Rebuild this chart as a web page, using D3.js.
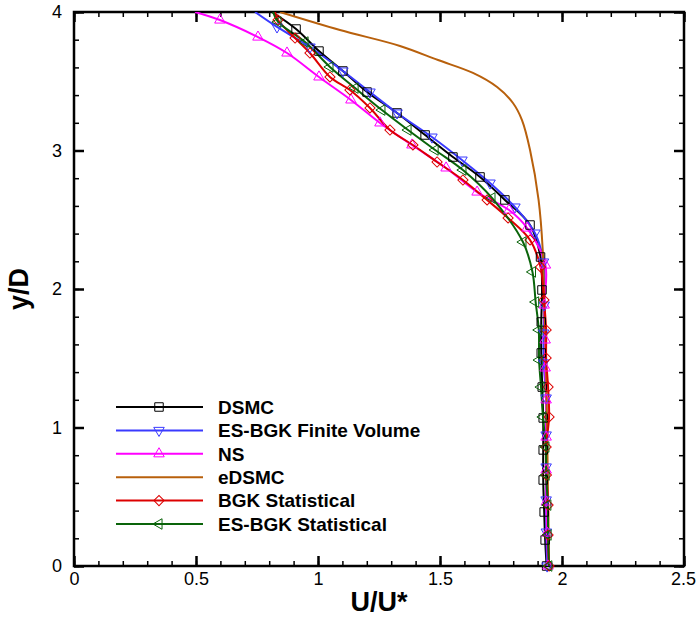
<!DOCTYPE html>
<html>
<head>
<meta charset="utf-8">
<script src="https://cdn.jsdelivr.net/npm/d3@7"></script>
<style>
  body { margin: 0; background: #fff; }
  text { font-family: "Liberation Sans", Arial, sans-serif; }
</style>
</head>
<body>
<div class="chart"></div>
<script>
// values, [U/U*, y/D]
var dsmc = [[0.811,4.0],[0.910,3.877],[1.004,3.718],[1.102,3.574],[1.201,3.422],[1.324,3.271],
  [1.439,3.112],[1.553,2.953],[1.664,2.809],[1.766,2.643],[1.869,2.462],[1.912,2.231],[1.918,1.993],
  [1.915,1.762],[1.915,1.538],[1.919,1.292],[1.923,1.069],[1.923,0.838],[1.923,0.621],[1.927,0.390],
  [1.931,0.188],[1.937,0.0]];
var esbgkFV = [[0.742,4.0],[0.832,3.892],[0.967,3.747],[1.102,3.574],[1.213,3.422],[1.324,3.271],
  [1.467,3.097],[1.590,2.931],[1.705,2.765],[1.807,2.592],[1.889,2.404],[1.924,2.195],[1.927,1.884],
  [1.925,1.682],[1.925,1.466],[1.935,1.213],[1.935,0.946],[1.935,0.715],[1.935,0.477],[1.936,0.245],
  [1.939,0.0]];
var ns = [[0.496,4.0],[0.598,3.942],[0.754,3.819],[0.873,3.704],[1.004,3.531],[1.135,3.365],
  [1.254,3.199],[1.385,3.040],[1.525,2.874],[1.652,2.700],[1.783,2.570],[1.857,2.440],[1.932,2.173],
  [1.927,1.884],[1.931,1.632],[1.931,1.430],[1.935,1.199],[1.935,0.931],[1.935,0.693],[1.936,0.462],
  [1.939,0.238],[1.943,0.0]];
var edsmc = [[0.844,4.0],[1.090,3.870],[1.336,3.755],[1.492,3.653],[1.635,3.560],[1.734,3.458],
  [1.799,3.343],[1.836,3.220],[1.869,3.004],[1.904,2.643],[1.921,2.282],[1.926,1.993],[1.934,1.487],
  [1.939,0.982],[1.943,0.477],[1.947,0.0]];
var bgkStat = [[0.824,4.0],[0.836,3.942],[0.906,3.812],[0.967,3.704],[1.049,3.531],[1.131,3.437],
  [1.213,3.307],[1.295,3.148],[1.389,3.040],[1.488,2.917],[1.594,2.787],[1.693,2.643],[1.779,2.513],
  [1.869,2.354],[1.912,2.159],[1.926,1.921],[1.935,1.704],[1.935,1.502],[1.943,1.292],[1.947,1.076],
  [1.935,0.859],[1.936,0.657],[1.943,0.440],[1.943,0.224],[1.947,0.0]];
var esbgkStat = [[0.816,4.0],[0.836,3.928],[0.947,3.783],[1.049,3.603],[1.152,3.451],[1.262,3.292],
  [1.369,3.148],[1.480,3.004],[1.594,2.859],[1.713,2.657],[1.840,2.339],[1.879,2.123],[1.892,1.906],
  [1.905,1.704],[1.906,1.487],[1.914,1.292],[1.922,1.076],[1.934,0.859],[1.935,0.657],[1.942,0.440],
  [1.943,0.224],[1.946,0.0]];

var seriesNames = ["DSMC","ES-BGK Finite Volume","NS","eDSMC","BGK Statistical","ES-BGK Statistical"];
var seriesData = [dsmc, esbgkFV, ns, edsmc, bgkStat, esbgkStat];
var seriesColors = ["#000000","#3a3aff","#ff00ff","#b8600c","#dd0000","#0a640a"];
var seriesMarkers = ["square","down","up","none","diamond","left"];

var xTicks = [0,0.5,1,1.5,2,2.5];
var xTickLabels = ["0","0.5","1","1.5","2","2.5"];
var yTicks = [0,1,2,3,4];
var yTickLabels = ["0","1","2","3","4"];

var margin = {top: 12, right: 12, bottom: 53, left: 74},
    width = 696 - margin.left - margin.right,
    height = 619 - margin.top - margin.bottom;

var x = d3.scaleLinear().domain([0,2.5]).range([0,width]);
var y = d3.scaleLinear().domain([0,4]).range([height,0]);

var svg = d3.select(".chart").append("svg")
    .attr("width", 696)
    .attr("height", 619);

var g = svg.append("g")
    .attr("transform", "translate(" + margin.left + "," + margin.top + ")");

g.append("clipPath").attr("id","plotClip")
  .append("rect").attr("width", width).attr("height", height);

// ticks on all four sides, pointing inward
var xMinor = d3.range(0, 2.5001, 0.1), yMinor = d3.range(0, 4.0001, 0.2);
function tickAxes(axisFn, scale, vals, size, labels, transform) {
  var a = axisFn(scale).tickValues(vals).tickSizeInner(size).tickSizeOuter(0).tickPadding(8);
  if (labels) a.tickFormat(function(d,i){ return labels[i]; }); else a.tickFormat("");
  var sel = g.append("g").attr("transform", transform || null).call(a);
  sel.select(".domain").remove();
  sel.selectAll("line").attr("stroke","#000").attr("stroke-width",1.5);
  return sel;
}
tickAxes(d3.axisBottom, x, xMinor, -5, null, "translate(0," + height + ")");
tickAxes(d3.axisTop, x, xMinor, -5, null);
tickAxes(d3.axisLeft, y, yMinor, -5, null);
tickAxes(d3.axisRight, y, yMinor, -5, null, "translate(" + width + ",0)");
var xAx = tickAxes(d3.axisBottom, x, xTicks, -10, xTickLabels, "translate(0," + height + ")");
tickAxes(d3.axisTop, x, xTicks, -10, null).selectAll("line").attr("stroke-width",2.5);
var yAx = tickAxes(d3.axisLeft, y, yTicks, -10, yTickLabels);
tickAxes(d3.axisRight, y, yTicks, -10, null, "translate(" + width + ",0)").selectAll("line").attr("stroke-width",2.5);
xAx.selectAll("line").attr("stroke-width",2.5);
yAx.selectAll("line").attr("stroke-width",2.5);
xAx.selectAll("text").style("font-size","18px").attr("fill","#000").attr("dy","0.6em")
  .attr("x", function(d,i){ return i == xTicks.length - 1 ? -1 : 0; });
yAx.selectAll("text").style("font-size","18px").attr("fill","#000").attr("x",-12);

// frame
g.append("rect")
  .attr("width", width).attr("height", height)
  .attr("fill","none").attr("stroke","#000").attr("stroke-width",2.5);

// axis titles
g.append("text")
  .attr("x", width/2).attr("y", height + 45)
  .attr("text-anchor","middle")
  .style("font-size","27px").style("font-weight","bold")
  .text("U/U*");
g.append("text")
  .attr("transform","rotate(-90)")
  .attr("x", -(y(2))).attr("y", -46)
  .attr("text-anchor","middle")
  .style("font-size","27px").style("font-weight","bold")
  .text("y/D");

var line = d3.line()
  .x(function(d){ return x(d[0]); })
  .y(function(d){ return y(d[1]); })
  .curve(d3.curveCatmullRom.alpha(0.5));

function markerPath(type) {
  if (type == "square") return d3.symbol(d3.symbolSquare, 72)();
  if (type == "diamond") return d3.symbol(d3.symbolSquare, 52)();
  return d3.symbol(d3.symbolTriangle, 48)();
}
function markerRot(type) {
  if (type == "down") return 180;
  if (type == "left") return -90;
  if (type == "diamond") return 45;
  return 0;
}

var plot = g.append("g").attr("clip-path","url(#plotClip)");

seriesData.forEach(function(data, i) {
  plot.append("path")
    .datum(data)
    .attr("fill","none")
    .attr("stroke", seriesColors[i])
    .attr("stroke-width", 2)
    .attr("stroke-linejoin","round")
    .attr("d", line);
});

// symbols (none on the top edge end points)
seriesData.forEach(function(data, i) {
  if (seriesMarkers[i] == "none") return;
  g.append("g").selectAll("path")
    .data(data.filter(function(d){ return d[1] < 4; }))
    .enter()
    .append("path")
    .attr("d", markerPath(seriesMarkers[i]))
    .attr("transform", function(d){ return "translate(" + x(d[0]) + "," + y(d[1]) + ") rotate(" + markerRot(seriesMarkers[i]) + ")"; })
    .attr("fill","none")
    .attr("stroke", seriesColors[i])
    .attr("stroke-width", 1);
});

// legend
var legend = g.append("g").attr("transform","translate(" + (116 - margin.left) + "," + (407 - margin.top) + ")");
seriesNames.forEach(function(name, i) {
  var row = legend.append("g").attr("transform","translate(0," + (i*23.4) + ")");
  row.append("line")
    .attr("x1",0).attr("x2",87).attr("y1",0).attr("y2",0)
    .attr("stroke", seriesColors[i]).attr("stroke-width",2);
  if (seriesMarkers[i] != "none") {
    row.append("path")
      .attr("d", markerPath(seriesMarkers[i]))
      .attr("transform","translate(43,0) rotate(" + markerRot(seriesMarkers[i]) + ")")
      .attr("fill","none")
      .attr("stroke", seriesColors[i]).attr("stroke-width",1);
  }
  row.append("text")
    .attr("x",102).attr("y",0).attr("dy","0.36em")
    .style("font-size","19px").style("font-weight","bold")
    .text(name);
});
</script>
</body>
</html>
